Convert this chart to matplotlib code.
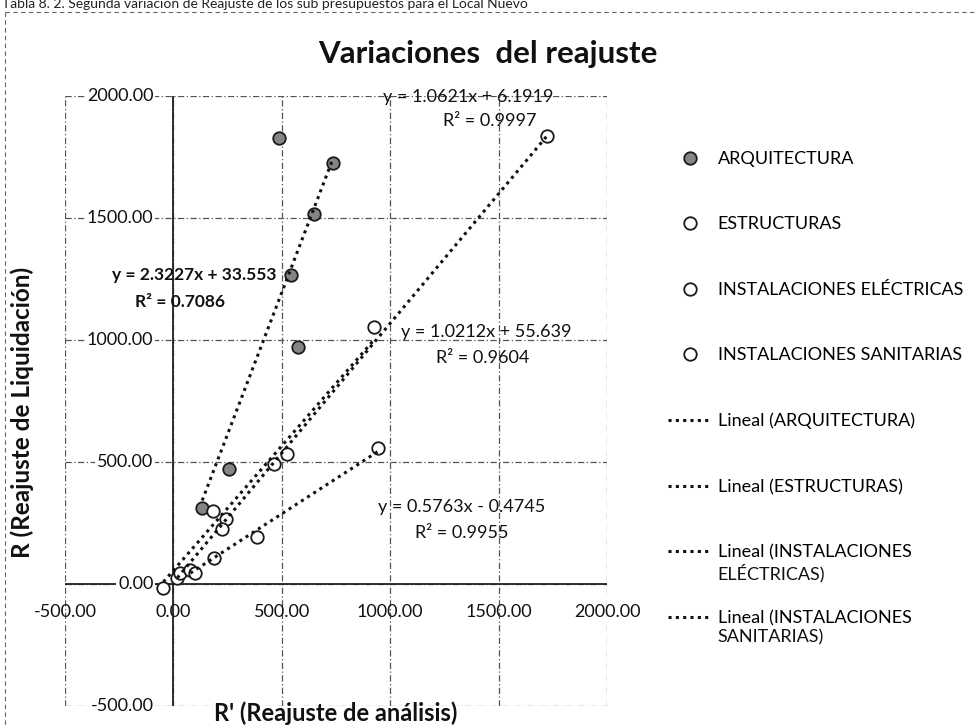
import matplotlib
matplotlib.use('Agg')
import matplotlib.pyplot as plt
from matplotlib.lines import Line2D
import matplotlib.transforms as mtrans
import numpy as np

plt.rcParams['font.family'] = ['Lato', 'DejaVu Sans']

# ---------------- data ----------------
series_names = ["ARQUITECTURA", "ESTRUCTURAS", "INSTALACIONES ELÉCTRICAS", "INSTALACIONES SANITARIAS"]

arq_x = [133, 257, 487, 543, 575, 648, 736]
arq_y = [311, 471, 1828, 1266, 971, 1516, 1725]

est_x = [18, 32, 244, 464, 1724]
est_y = [25, 45, 265, 492, 1836]

elec_x = [-46, 184, 225, 524, 924]
elec_y = [-16, 299, 225, 533, 1053]

san_x = [78, 101, 189, 386, 943]
san_y = [57, 45, 107, 193, 557]

trend_slopes = [2.3227, 1.0621, 1.0212, 0.5763]
trend_intercepts = [33.553, 6.1919, 55.639, -0.4745]
trend_eqs = ["y = 2.3227x + 33.553", "y = 1.0621x + 6.1919",
             "y = 1.0212x + 55.639", "y = 0.5763x - 0.4745"]
trend_r2 = ["R² = 0.7086", "R² = 0.9997", "R² = 0.9604", "R² = 0.9955"]
trend_labels = ["Lineal (ARQUITECTURA)", "Lineal (ESTRUCTURAS)",
                "Lineal (INSTALACIONES", "Lineal (INSTALACIONES"]
trend_label_cont = ["", "", "ELÉCTRICAS)", "SANITARIAS)"]

axis_ticks = [-500, 0, 500, 1000, 1500, 2000]
tick_labels = ["-500.00", "0.00", "500.00", "1000.00", "1500.00", "2000.00"]

title = "Variaciones  del reajuste"
xlabel = "R' (Reajuste de análisis)"
ylabel = "R (Reajuste de Liquidación)"
caption = "Tabla 8. 2. Segunda variación de Reajuste de los sub presupuestos para el Local Nuevo"

# ---------------- figure ----------------
W, H = 977, 728
fig = plt.figure(figsize=(W / 100, H / 100), dpi=100)
fig.patch.set_facecolor('white')

def fx(px):
    return px / W

def fy(py):
    return 1 - py / H

ax = fig.add_axes([fx(65), fy(706), (607 - 65) / W, (706 - 96) / H])
ax.set_xlim(-500, 2000)
ax.set_ylim(-500, 2000)
ax.set_xticks(axis_ticks)
ax.set_yticks(axis_ticks)
ax.tick_params(length=0, labelbottom=False, labelleft=False)
for s in ax.spines.values():
    s.set_visible(False)
ax.grid(True, color='#555555', lw=0.9, ls=(0, (5, 2, 1, 2)), zorder=0)
ax.set_axisbelow(True)
ax.axhline(0, color='#222222', lw=1.3, zorder=1)
ax.axvline(0, color='#222222', lw=1.3, zorder=1)

# tick labels at the axis crossings
ytr = mtrans.offset_copy(ax.transData, fig=fig, x=-20, y=0, units='dots')
for v, lab in zip(axis_ticks, tick_labels):
    ax.text(0, v, lab, transform=ytr, ha='right', va='center', fontsize=13,
            color='#111111', bbox=dict(boxstyle='square,pad=0.1', fc='white', ec='none'),
            zorder=2, clip_on=False)
xtr = mtrans.offset_copy(ax.transData, fig=fig, x=0, y=-28, units='dots')
for v, lab in zip(axis_ticks, tick_labels):
    ax.text(v, 0, lab, transform=xtr, ha='center', va='center', fontsize=13,
            color='#111111', zorder=2, clip_on=False)

# series
xs_all = [arq_x, est_x, elec_x, san_x]
ys_all = [arq_y, est_y, elec_y, san_y]
faces = ['#858585', 'white', 'white', 'white']
dot = (0, (1, 1.4))
for xs, ys, fc in zip(xs_all, ys_all, faces):
    ax.plot(xs, ys, ls='none', marker='o', ms=9, mfc=fc, mec='#1a1a1a', mew=1.3,
            zorder=4, clip_on=False)
for xs, m, b in zip(xs_all, trend_slopes, trend_intercepts):
    xr = np.array([min(xs), max(xs)], dtype=float)
    ax.plot(xr, m * xr + b, ls=dot, lw=2.2, color='#111111', zorder=5)

# equation labels
eq_pos = [(194, 275, 180, 302, 'bold', 12.5), (468, 97, 490, 121, 'normal', 13),
          (486, 332, 483, 358, 'normal', 13), (462, 507, 462, 533, 'normal', 13)]
for (ex, ey, rx, ry, wt, fs), eq, r2 in zip(eq_pos, trend_eqs, trend_r2):
    fig.text(fx(ex), fy(ey), eq, ha='center', va='center', fontsize=fs,
             fontweight=wt, color='#111111')
    fig.text(fx(rx), fy(ry), r2, ha='center', va='center', fontsize=fs,
             fontweight=wt, color='#111111')

# legend
handles = []
labels = []
for n, fc in zip(series_names, faces):
    handles.append(Line2D([], [], ls='none', marker='o', ms=9, mfc=fc, mec='#1a1a1a', mew=1.3))
    labels.append(n)
for t in trend_labels:
    handles.append(Line2D([], [], ls=dot, lw=2.2, color='#111111'))
    labels.append(t)
leg = ax.legend(handles, labels, loc='upper left', bbox_to_anchor=(fx(668), fy(151)),
                bbox_transform=fig.transFigure, frameon=False, fontsize=13,
                labelspacing=2.74, handlelength=2.4, handletextpad=0.35,
                borderaxespad=0, borderpad=0)
leg.set_zorder(5)
for txt, cont in zip(leg.get_texts()[4:], trend_label_cont):
    if cont:
        ax.annotate(cont, xy=(0, 0), xycoords=txt, xytext=(0, -2),
                    textcoords='offset points', ha='left', va='top',
                    fontsize=13, color='#111111', annotation_clip=False,
                    zorder=20)

# titles
fig.text(fx(488), fy(54), title, ha='center', va='center', fontsize=22.5,
         fontweight='bold', color='#111111')
fig.text(fx(336), fy(713), xlabel, ha='center', va='center', fontsize=17,
         fontweight='bold', color='#111111')
fig.text(fx(22), fy(412), ylabel, ha='center', va='center', fontsize=17.5,
         fontweight='bold', rotation=90, color='#111111')
fig.text(fx(2), fy(10.5), caption, ha='left', va='bottom', fontsize=10, color='#222222')

# outer dashed frame of the chart area
fig.add_artist(Line2D([fx(5), fx(977)], [fy(12), fy(12)], transform=fig.transFigure,
                      color='#666666', lw=0.8, ls=(0, (4, 3))))
fig.add_artist(Line2D([fx(5), fx(5)], [fy(12), fy(728)], transform=fig.transFigure,
                      color='#666666', lw=0.8, ls=(0, (4, 3))))

fig.savefig('out.png', dpi=100)
